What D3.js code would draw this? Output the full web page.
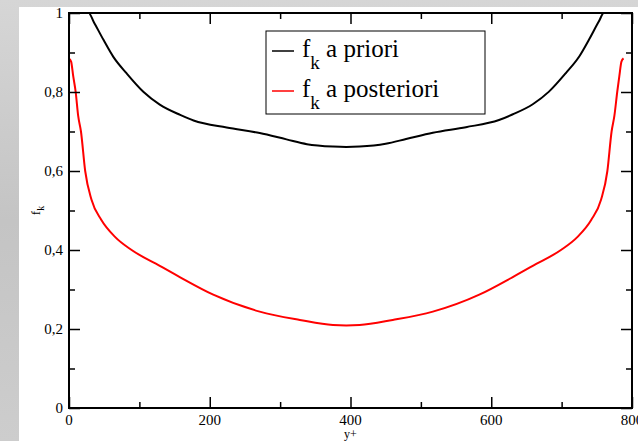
<!DOCTYPE html>
<html>
<head>
<meta charset="utf-8">
<script src="https://cdn.jsdelivr.net/npm/d3@7"></script>
<style>
  body { margin: 0; background: #c9c9c9; }
  svg { display: block; }
</style>
</head>
<body>
<svg id="chart" width="638" height="441" style="font-family: 'Liberation Serif', serif"></svg>
<script>
// values
var prioriX = [0, 28, 35, 49, 63, 82, 106, 129, 158, 177, 224, 271, 309, 338, 375, 394,
    413, 450, 479, 517, 564, 611, 630, 659, 682, 706, 725, 739, 753, 760, 788];
var prioriF = [1, 1, 0.978, 0.932, 0.889, 0.847, 0.800, 0.768, 0.742, 0.728, 0.710, 0.696, 0.680, 0.668, 0.662, 0.661,
    0.662, 0.669, 0.681, 0.697, 0.711, 0.729, 0.743, 0.769, 0.801, 0.848, 0.890, 0.933, 0.979, 1, 1];

var posterioriX = [0, 3, 6, 9.5, 13, 17, 23, 32, 46, 65, 89, 129, 158, 205, 271, 328, 375, 394, 413,
    460, 517, 583, 630, 659, 699, 723, 742, 756, 765, 771, 775, 779, 782, 785, 788];
var posterioriF = [0.885, 0.877, 0.84, 0.80, 0.74, 0.70, 0.60, 0.527, 0.476, 0.434, 0.40, 0.360, 0.331, 0.287, 0.244, 0.223, 0.210, 0.209, 0.210,
    0.223, 0.244, 0.287, 0.331, 0.360, 0.40, 0.434, 0.476, 0.527, 0.60, 0.70, 0.74, 0.80, 0.84, 0.877, 0.885];

var xTicks = [0, 200, 400, 600, 800],
    xMinor = [100, 300, 500, 700],
    yTicks = [0, 0.2, 0.4, 0.6, 0.8, 1],
    yMinor = [0.1, 0.3, 0.5, 0.7, 0.9];

var legendLabels = ['a priori', 'a posteriori'],
    legendColors = ['#000', '#f00'];

(function() {
    var W = 638, H = 441,
        pL = 69, pR = 632, pT = 13, pB = 408,
        serif = "'Liberation Serif', serif";

    var fmt = d3.formatLocale({ decimal: ',', thousands: '.', grouping: [3], currency: ['', ''] }).format('');

    var svg = d3.select('#chart');

    // slide-like backdrop
    var defs = svg.append('defs');
    var grad = defs.append('linearGradient')
        .attr('id', 'bg').attr('x1', 0).attr('y1', 0).attr('x2', 0).attr('y2', 1);
    grad.append('stop').attr('offset', '0%').attr('stop-color', '#d6d6d6');
    grad.append('stop').attr('offset', '50%').attr('stop-color', '#c4c4c4');
    grad.append('stop').attr('offset', '100%').attr('stop-color', '#cdcdcd');
    svg.append('rect').attr('width', W).attr('height', H).attr('fill', 'url(#bg)');
    svg.append('rect').attr('x', 19).attr('y', 7).attr('width', W - 19).attr('height', H - 7).attr('fill', '#fff');

    defs.append('clipPath').attr('id', 'plot')
        .append('rect').attr('x', pL).attr('y', pT).attr('width', pR - pL).attr('height', pB - pT);

    var x = d3.scaleLinear().domain([0, 800]).range([pL, pR]),
        y = d3.scaleLinear().domain([0, 1]).range([pB, pT]);

    var line = d3.line()
        .x(function(d) { return x(d[0]); })
        .y(function(d) { return y(d[1]); })
        .curve(d3.curveMonotoneX);

    var g = svg.append('g').attr('clip-path', 'url(#plot)');
    g.append('path')
        .attr('d', line(d3.zip(prioriX, prioriF)))
        .attr('fill', 'none').attr('stroke', '#000').attr('stroke-width', 2);
    g.append('path')
        .attr('d', line(d3.zip(posterioriX, posterioriF)))
        .attr('fill', 'none').attr('stroke', '#f00').attr('stroke-width', 2);

    // ticks on all four sides, pointing inward
    function ticks(axis, values, size) {
        return axis.tickValues(values).tickSizeInner(-size).tickSizeOuter(0).tickFormat('');
    }
    function styleAxis(sel) {
        sel.select('.domain').remove();
        sel.selectAll('line').attr('stroke', '#000').attr('stroke-width', 1.5);
    }

    svg.append('g').attr('transform', 'translate(0,' + pB + ')').call(ticks(d3.axisBottom(x), xTicks, 11)).call(styleAxis);
    svg.append('g').attr('transform', 'translate(0,' + pB + ')').call(ticks(d3.axisBottom(x), xMinor, 6)).call(styleAxis);
    svg.append('g').attr('transform', 'translate(0,' + pT + ')').call(ticks(d3.axisTop(x), xTicks, 11)).call(styleAxis);
    svg.append('g').attr('transform', 'translate(0,' + pT + ')').call(ticks(d3.axisTop(x), xMinor, 6)).call(styleAxis);
    svg.append('g').attr('transform', 'translate(' + pL + ',0)').call(ticks(d3.axisLeft(y), yTicks, 11)).call(styleAxis);
    svg.append('g').attr('transform', 'translate(' + pL + ',0)').call(ticks(d3.axisLeft(y), yMinor, 6)).call(styleAxis);
    svg.append('g').attr('transform', 'translate(' + pR + ',0)').call(ticks(d3.axisRight(y), yTicks, 11)).call(styleAxis);
    svg.append('g').attr('transform', 'translate(' + pR + ',0)').call(ticks(d3.axisRight(y), yMinor, 6)).call(styleAxis);

    svg.append('rect')
        .attr('x', pL).attr('y', pT)
        .attr('width', pR - pL).attr('height', pB - pT)
        .attr('fill', 'none').attr('stroke', '#000').attr('stroke-width', 2);

    // tick labels
    svg.append('g').selectAll('text')
        .data(xTicks)
        .join('text')
        .attr('x', function(d) { return x(d); })
        .attr('y', 425)
        .attr('text-anchor', 'middle')
        .style('font-family', serif)
        .style('font-size', '15px')
        .text(fmt);

    svg.append('g').selectAll('text')
        .data(yTicks)
        .join('text')
        .attr('x', 63)
        .attr('y', function(d) { return y(d) + 5; })
        .attr('text-anchor', 'end')
        .style('font-family', serif)
        .style('font-size', '15px')
        .text(fmt);

    // axis titles
    svg.append('text')
        .attr('x', x(400)).attr('y', 438)
        .attr('text-anchor', 'middle')
        .style('font-family', serif)
        .style('font-size', '12px')
        .text('y+');

    var yt = svg.append('text')
        .attr('transform', 'translate(40,' + y(0.5) + ') rotate(-90)')
        .attr('text-anchor', 'middle')
        .style('font-family', serif)
        .style('font-size', '13px');
    yt.append('tspan').text('f');
    yt.append('tspan').attr('dy', 4).style('font-size', '10px').text('k');

    // legend
    svg.append('rect')
        .attr('x', 266).attr('y', 31)
        .attr('width', 219).attr('height', 83)
        .attr('fill', '#fff').attr('stroke', '#000').attr('stroke-width', 1);

    var leg = svg.append('g').selectAll('g')
        .data(legendLabels)
        .join('g')
        .attr('transform', function(d, i) { return 'translate(0,' + (57 + i * 40) + ')'; });

    leg.append('line')
        .attr('x1', 272).attr('x2', 294)
        .attr('y1', -6).attr('y2', -6)
        .attr('stroke', function(d, i) { return legendColors[i]; })
        .attr('stroke-width', 1.5);

    var lt = leg.append('text')
        .attr('x', 302)
        .style('font-family', serif)
        .style('font-size', '25px');
    lt.append('tspan').text('f');
    lt.append('tspan').attr('dy', 12).style('font-size', '19px').text('k');
    lt.append('tspan').attr('dy', -12).text(function(d) { return ' ' + d; });
})();
</script>
</body>
</html>
